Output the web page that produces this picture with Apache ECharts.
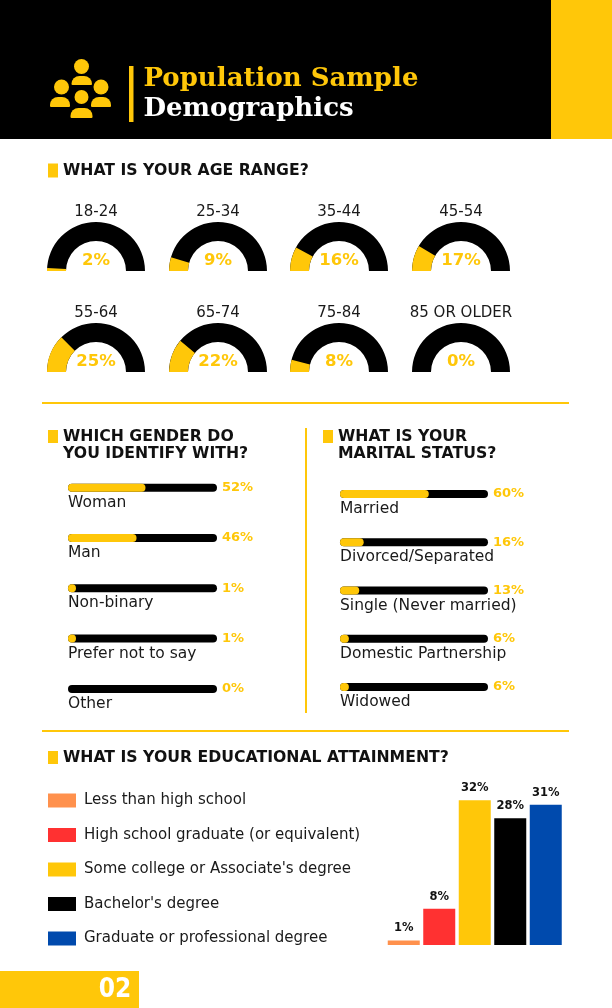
<!DOCTYPE html>
<html>
<head>
<meta charset="utf-8">
<script src="https://cdn.jsdelivr.net/npm/echarts@6/dist/echarts.min.js"></script>
<style>
html,body{margin:0;padding:0;background:#fff;}
#main{width:612px;height:1008px;}
</style>
</head>
<body>
<div id="main"></div>
<script>
// age gauges
var ageCats = ['18-24', '25-34', '35-44', '45-54', '55-64', '65-74', '75-84', '85 OR OLDER'];
var ageVals = [2, 9, 16, 17, 25, 22, 8, 0];

// gender bars
var genderCats = ['Woman', 'Man', 'Non-binary', 'Prefer not to say', 'Other'];
var genderVals = [52, 46, 1, 1, 0];

// marital bars
var maritalCats = ['Married', 'Divorced/Separated', 'Single (Never married)', 'Domestic Partnership', 'Widowed'];
var maritalVals = [60, 16, 13, 6, 6];

// education columns
var eduCats = ['Less than high school', 'High school graduate (or equivalent)', "Some college or Associate's degree", "Bachelor's degree", 'Graduate or professional degree'];
var eduVals = [1, 8, 32, 28, 31];
var eduColors = ['#FF914D', '#FF3131', '#FFC709', '#000000', '#004AAD'];

var YELLOW = '#FFC709';
var INK = '#1a1a1a';
var SANS = 'DejaVu Sans';

var chart = echarts.init(document.getElementById('main'));

var gaugeX = [96, 218, 339, 461];
var gaugeY = [271, 372];

var series = [];

// gauges
ageCats.forEach(function (name, i) {
    series.push({
        type: 'gauge',
        center: [gaugeX[i % 4], gaugeY[Math.floor(i / 4)]],
        radius: 49,
        startAngle: 180,
        endAngle: 0,
        min: 0,
        max: 100,
        silent: true,
        axisLine: {lineStyle: {width: 19, color: [[1, '#000']]}},
        progress: {show: true, width: 19, itemStyle: {color: YELLOW}},
        pointer: {show: false},
        anchor: {show: false},
        axisTick: {show: false},
        splitLine: {show: false},
        axisLabel: {show: false},
        title: {offsetCenter: [0, -59], fontSize: 15, color: INK, fontFamily: SANS},
        detail: {
            offsetCenter: [0, -10], formatter: '{value}%', fontSize: 16.5,
            fontWeight: 'bold', color: YELLOW, fontFamily: SANS
        },
        data: [{value: ageVals[i], name: name}]
    });
});

// horizontal track bars (gender = grid 0, marital = grid 1)
function trackBars(idx, cats, vals) {
    series.push({
        type: 'bar',
        xAxisIndex: idx,
        yAxisIndex: idx,
        barWidth: 8,
        silent: true,
        itemStyle: {color: '#000', borderRadius: 4},
        label: {
            show: true,
            position: [0, 19],
            align: 'left',
            verticalAlign: 'middle',
            formatter: '{b}',
            fontSize: 15.5,
            color: INK,
            fontFamily: SANS
        },
        data: cats.map(function () { return 100; })
    });
    series.push({
        type: 'bar',
        xAxisIndex: idx,
        yAxisIndex: idx,
        barWidth: 8,
        barGap: '-100%',
        barMinHeight: 8,
        silent: true,
        itemStyle: {color: YELLOW, borderRadius: 4},
        data: vals.map(function (v) {
            return v > 0 ? v : {value: 0, itemStyle: {opacity: 0}};
        })
    });
}
trackBars(0, genderCats, genderVals);
trackBars(1, maritalCats, maritalVals);

// education columns, one series per category so the legend lists them
eduCats.forEach(function (name, i) {
    series.push({
        type: 'bar',
        name: name,
        xAxisIndex: 2,
        yAxisIndex: 2,
        barWidth: 32,
        barGap: '-100%',
        silent: true,
        itemStyle: {color: eduColors[i]},
        label: {
            show: true, position: 'top', distance: 6, formatter: '{c}%',
            fontSize: 11.5, fontWeight: 'bold', color: '#111', fontFamily: SANS
        },
        data: eduCats.map(function (c, j) { return j === i ? eduVals[i] : '-'; })
    });
});

function hAxis(idx) {
    return {gridIndex: idx, type: 'value', min: 0, max: 100, show: false};
}
function catAxis(idx, cats, vals) {
    return {
        gridIndex: idx, type: 'category', data: cats, inverse: true, position: 'right',
        axisLine: {show: false}, axisTick: {show: false},
        axisLabel: {
            margin: 5, fontSize: 13, fontWeight: 'bold', color: YELLOW, fontFamily: SANS,
            formatter: function (v, i) { return vals[i] + '%'; }
        }
    };
}

function heading(x, y, lines, markH) {
    var els = [{type: 'rect', shape: {x: x, y: y - 7, width: 10, height: markH}, style: {fill: YELLOW}}];
    lines.forEach(function (t, k) {
        els.push({
            type: 'text', x: x + 15, y: y + k * 16.5,
            style: {text: t, fill: '#111', font: 'bold 15.7px "DejaVu Sans"', textVerticalAlign: 'middle'}
        });
    });
    return els;
}

var graphics = [
    // header band
    {type: 'rect', shape: {x: 0, y: 0, width: 551, height: 139}, style: {fill: '#000'}},
    {type: 'rect', shape: {x: 551, y: 0, width: 61, height: 139}, style: {fill: YELLOW}},
    // people icon
    {type: 'circle', shape: {cx: 81.5, cy: 66.5, r: 7.5}, style: {fill: YELLOW}},
    {type: 'rect', shape: {x: 71.5, y: 76, width: 20.5, height: 9, r: [8, 8, 1, 1]}, style: {fill: YELLOW}},
    {type: 'circle', shape: {cx: 61.5, cy: 87, r: 7.5}, style: {fill: YELLOW}},
    {type: 'rect', shape: {x: 50, y: 97, width: 20, height: 10, r: [8, 8, 1, 1]}, style: {fill: YELLOW}},
    {type: 'circle', shape: {cx: 101, cy: 87, r: 7.5}, style: {fill: YELLOW}},
    {type: 'rect', shape: {x: 91, y: 97, width: 20, height: 10, r: [8, 8, 1, 1]}, style: {fill: YELLOW}},
    {type: 'circle', shape: {cx: 81.5, cy: 97, r: 7}, style: {fill: YELLOW}},
    {type: 'rect', shape: {x: 70.5, y: 108, width: 22, height: 10, r: [8, 8, 1, 1]}, style: {fill: YELLOW}},
    {type: 'rect', shape: {x: 129, y: 66, width: 4.5, height: 56}, style: {fill: YELLOW}},
    {type: 'text', x: 143.5, y: 79, style: {text: 'Population Sample', fill: YELLOW, font: 'bold 26px "DejaVu Serif"', textVerticalAlign: 'middle'}},
    {type: 'text', x: 143.5, y: 109, style: {text: 'Demographics', fill: '#fff', font: 'bold 26px "DejaVu Serif"', textVerticalAlign: 'middle'}},
    // dividers
    {type: 'rect', shape: {x: 42, y: 402, width: 527, height: 2}, style: {fill: YELLOW}},
    {type: 'rect', shape: {x: 42, y: 730, width: 527, height: 2}, style: {fill: YELLOW}},
    {type: 'rect', shape: {x: 305, y: 428, width: 2, height: 285}, style: {fill: YELLOW}},
    // footer
    {type: 'rect', shape: {x: 0, y: 971, width: 139, height: 37}, style: {fill: YELLOW}},
    {type: 'text', x: 115, y: 990, style: {text: '02', fill: '#fff', font: 'bold 26px "DejaVu Sans Condensed", "DejaVu Sans"', textAlign: 'center', textVerticalAlign: 'middle'}}
];
graphics = graphics
    .concat(heading(48, 170.5, ['WHAT IS YOUR AGE RANGE?'], 14))
    .concat(heading(48, 437, ['WHICH GENDER DO', 'YOU IDENTIFY WITH?'], 13))
    .concat(heading(323, 437, ['WHAT IS YOUR', 'MARITAL STATUS?'], 13))
    .concat(heading(48, 758, ['WHAT IS YOUR EDUCATIONAL ATTAINMENT?'], 13));

var option = {
    animation: false,
    backgroundColor: '#fff',
    textStyle: {fontFamily: SANS},
    graphic: graphics,
    legend: {
        orient: 'vertical',
        left: 48,
        top: 793,
        padding: 0,
        icon: 'rect',
        itemWidth: 28,
        itemHeight: 14,
        itemGap: 19.5,
        selectedMode: false,
        textStyle: {fontSize: 15, color: INK, padding: [0, 0, 0, 3], fontFamily: SANS},
        data: eduCats
    },
    grid: [
        {left: 68, top: 462.5, width: 149, height: 251.6},
        {left: 340, top: 470, width: 148, height: 241},
        {left: 386, top: 764, width: 177.5, height: 181}
    ],
    xAxis: [
        hAxis(0),
        hAxis(1),
        {gridIndex: 2, type: 'category', data: eduCats, show: false}
    ],
    yAxis: [
        catAxis(0, genderCats, genderVals),
        catAxis(1, maritalCats, maritalVals),
        {gridIndex: 2, type: 'value', min: 0, max: 40, show: false}
    ],
    series: series
};

chart.setOption(option);
</script>
</body>
</html>
